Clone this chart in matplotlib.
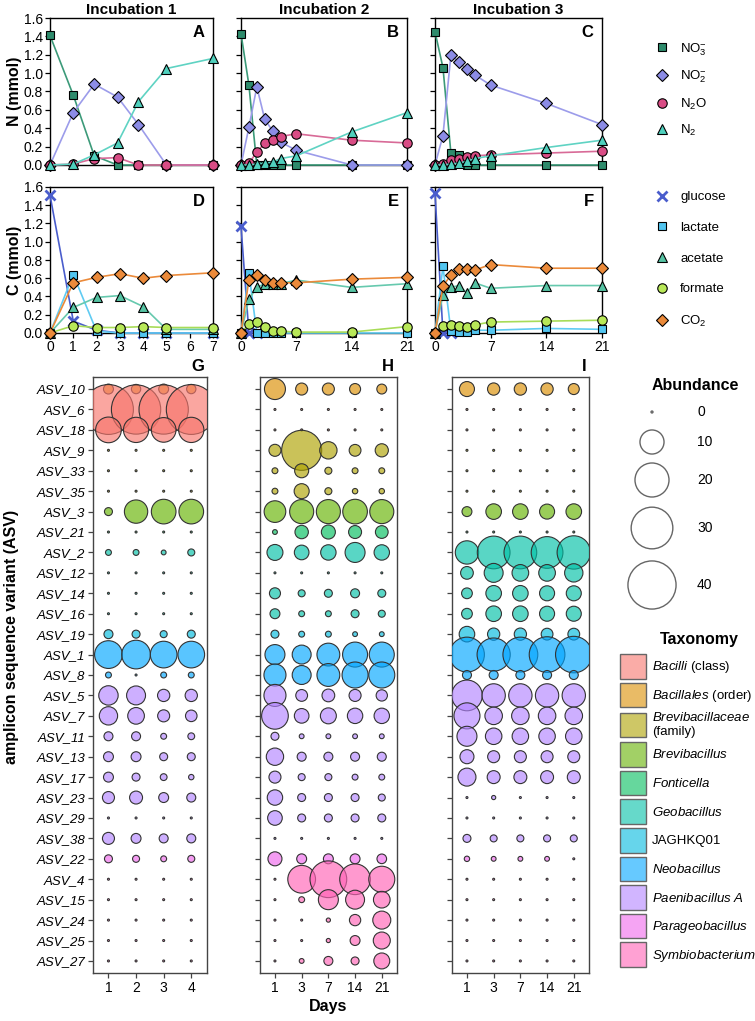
import numpy as np
import matplotlib.pyplot as plt
from matplotlib.patches import Patch
from matplotlib.lines import Line2D
from matplotlib.colors import to_rgba

plt.rcParams['font.family'] = ['Liberation Sans', 'DejaVu Sans']
plt.rcParams['mathtext.fontset'] = 'custom'
plt.rcParams['mathtext.rm'] = 'Liberation Sans'
plt.rcParams['mathtext.it'] = 'Liberation Sans:italic'
plt.rcParams['mathtext.bf'] = 'Liberation Sans:bold'

nan = np.nan

# ---- sampling days ----
days_1 = [0, 1, 1.9, 2.9, 3.8, 5, 7]
days_1c = [0, 1, 2, 3, 4, 5, 7]
days_23 = [0, 1, 2, 3, 4, 5, 7, 14, 21]

# ---- nitrogen species (mmol) ----
no3_1 = [1.41, 0.76, 0.10, 0.0, 0.0, 0.0, 0.0]
no2_1 = [0.0, 0.57, 0.88, 0.74, 0.44, 0.0, 0.0]
n2o_1 = [0.0, 0.01, 0.07, 0.08, 0.0, 0.0, 0.0]
n2_1 = [0.0, 0.01, 0.11, 0.24, 0.69, 1.05, 1.16]

no3_2 = [1.43, 0.87, 0.0, 0.0, 0.0, 0.0, 0.0, 0.0, 0.0]
no2_2 = [0.0, 0.41, 0.85, 0.50, 0.37, 0.25, 0.16, 0.0, 0.0]
n2o_2 = [0.0, 0.02, 0.14, 0.24, 0.27, 0.31, 0.34, 0.27, 0.24]
n2_2 = [0.0, 0.0, 0.01, 0.02, 0.03, 0.07, 0.10, 0.36, 0.57]

no3_3 = [1.45, 1.06, 0.13, 0.11, 0.0, 0.0, 0.0, 0.0, 0.0]
no2_3 = [0.0, 0.32, 1.20, 1.12, 1.04, 0.98, 0.87, 0.67, 0.44]
n2o_3 = [0.0, 0.01, 0.05, 0.07, 0.09, 0.10, 0.11, 0.13, 0.15]
n2_3 = [0.0, 0.0, 0.01, 0.02, 0.04, 0.07, 0.10, 0.19, 0.27]

# ---- carbon species (mmol) ----
glc_1 = [1.51, 0.13, 0.03, 0.0, 0.0, 0.0, 0.0]
lac_1 = [0.0, 0.64, 0.02, 0.0, 0.0, 0.0, 0.0]
ace_1 = [0.0, 0.28, 0.39, 0.41, 0.29, 0.04, 0.04]
for_1 = [0.0, 0.08, 0.06, 0.06, 0.07, 0.06, 0.06]
co2_1 = [0.0, 0.55, 0.61, 0.65, 0.60, 0.63, 0.66]

glc_2 = [1.17, 0.0, 0.0, nan, nan, nan, nan, nan, nan]
lac_2 = [0.0, 0.66, 0.0, 0.0, 0.0, 0.0, 0.0, 0.0, 0.0]
ace_2 = [0.0, 0.37, 0.50, 0.54, 0.54, 0.54, 0.58, 0.50, 0.54]
for_2 = [0.0, 0.10, 0.12, 0.07, 0.02, 0.02, 0.01, 0.01, 0.07]
co2_2 = [0.0, 0.58, 0.64, 0.58, 0.55, 0.55, 0.55, 0.59, 0.61]

glc_3 = [1.53, 0.0, 0.0, nan, nan, nan, nan, nan, nan]
lac_3 = [0.0, 0.73, 0.02, 0.01, 0.01, 0.03, 0.03, 0.05, 0.04]
ace_3 = [0.0, 0.42, 0.50, 0.52, 0.44, 0.55, 0.49, 0.52, 0.52]
for_3 = [0.0, 0.08, 0.09, 0.08, 0.07, 0.09, 0.12, 0.13, 0.14]
co2_3 = [0.0, 0.51, 0.64, 0.70, 0.70, 0.69, 0.75, 0.71, 0.71]

# ---- ASV abundance ----
asv_names = ['ASV_10', 'ASV_6', 'ASV_18', 'ASV_9', 'ASV_33', 'ASV_35', 'ASV_3',
             'ASV_21', 'ASV_2', 'ASV_12', 'ASV_14', 'ASV_16', 'ASV_19', 'ASV_1',
             'ASV_8', 'ASV_5', 'ASV_7', 'ASV_11', 'ASV_13', 'ASV_17', 'ASV_23',
             'ASV_29', 'ASV_38', 'ASV_22', 'ASV_4', 'ASV_15', 'ASV_24', 'ASV_25',
             'ASV_27']
asv_taxon = ['Bacillales', 'Bacilli', 'Bacilli', 'Brevibacillaceae', 'Brevibacillaceae',
             'Brevibacillaceae', 'Brevibacillus', 'Fonticella', 'Geobacillus', 'Geobacillus',
             'Geobacillus', 'Geobacillus', 'JAGHKQ01', 'Neobacillus', 'Neobacillus',
             'Paenibacillus A', 'Paenibacillus A', 'Paenibacillus A', 'Paenibacillus A',
             'Paenibacillus A', 'Paenibacillus A', 'Paenibacillus A', 'Paenibacillus A',
             'Parageobacillus', 'Symbiobacterium', 'Symbiobacterium', 'Symbiobacterium',
             'Symbiobacterium', 'Symbiobacterium']

days_g = ['1', '2', '3', '4']
days_hi = ['1', '3', '7', '14', '21']

abund_g = [
    [1.7, 1.5, 1.7, 1.5], [43, 42, 42, 43], [11.4, 11, 10.5, 11], [0, 0, 0, 0],
    [0, 0, 0, 0], [0, 0, 0, 0], [1.1, 9.4, 10.5, 10.5], [0, 0, 0, 0],
    [0.6, 0.6, 0.4, 0.85], [0, 0, 0, 0], [0, 0, 0, 0], [0, 0, 0, 0],
    [1.4, 1.1, 0.85, 1.1], [13.3, 14.2, 12.3, 12.3], [0.6, 0, 0.6, 0.6],
    [6.5, 6.2, 2.6, 2.6], [5.8, 4.8, 2.5, 2.3], [1.4, 1.4, 0.6, 0.8],
    [1.7, 1.7, 1.1, 1.1], [1.7, 1.1, 0.8, 0.5], [2.5, 2.9, 1.7, 1.4],
    [0, 0, 0, 0], [2.5, 1.7, 1.4, 1.4], [1.1, 0.85, 0.6, 0.85],
    [0, 0, 0, 0], [0, 0, 0, 0], [0, 0, 0, 0], [0, 0, 0, 0], [0, 0, 0, 0]]

abund_h = [
    [7.6, 2.5, 2.5, 2.1, 1.7], [0, 0, 0, 0, 0], [0, 0, 0, 0, 0],
    [2.5, 27.7, 5.2, 2.4, 3.0], [0.6, 3.4, 0.85, 0.6, 0.6], [0.6, 3.9, 0.85, 0.5, 0.5],
    [8.1, 10, 10, 10.5, 10], [0.4, 3.1, 3.4, 2.9, 2.8], [4.4, 3.7, 4.1, 6.9, 4.1],
    [0, 0, 0, 0, 0], [2.1, 0.85, 1.1, 1.4, 1.1], [1.7, 0.6, 0.6, 1.1, 0.85],
    [1.1, 0.6, 0.6, 0.4, 0.4], [6.9, 6.2, 9.0, 10.8, 10.8], [8.4, 6.2, 9.0, 11.7, 11.7],
    [8.4, 2.4, 2.8, 2.5, 2.2], [12.3, 3.7, 4.4, 4.1, 4.1], [1.1, 0.4, 0.4, 0.4, 0.4],
    [5.2, 1.4, 1.4, 1.4, 1.4], [2.5, 0.85, 0.85, 0.6, 0.6], [4.1, 1.1, 1.1, 1.1, 0.85],
    [3.7, 1.1, 1.1, 1.1, 1.1], [0, 0, 0, 0, 0], [3.4, 1.7, 1.7, 1.7, 1.6],
    [0, 13.3, 23.3, 16.3, 11.7], [0, 0.6, 6.9, 6.2, 4.8], [0, 0, 0.3, 2.2, 5.6],
    [0, 0, 0.3, 1.7, 5.0], [0, 0.4, 1.4, 1.1, 4.4]]

abund_i = [
    [3.9, 2.6, 2.6, 2.6, 2.1], [0, 0, 0, 0, 0], [0, 0, 0, 0, 0], [0, 0, 0, 0, 0],
    [0, 0, 0, 0, 0], [0, 0, 0, 0, 0], [1.7, 4.2, 4.2, 3.9, 4.2], [0, 0, 0, 0, 0],
    [9.4, 18.5, 18.5, 17.4, 19.2], [2.8, 6.2, 4.8, 4.8, 5.8], [2.0, 4.2, 4.2, 3.9, 3.9],
    [2.0, 4.2, 4.2, 3.9, 3.9], [4.2, 2.6, 2.6, 2.4, 2.4], [21, 19, 21, 22, 23],
    [1.4, 1.4, 1.4, 1.4, 1.4], [16.3, 9.4, 9.4, 9.4, 9.4], [11.7, 5.3, 5.3, 5.3, 5.3],
    [6.9, 4.7, 4.7, 4.7, 4.7], [3.4, 2.5, 2.5, 2.5, 2.5], [5.6, 2.9, 2.9, 2.9, 2.9],
    [0, 0.3, 0, 0, 0], [0, 0, 0, 0, 0], [1.1, 0.85, 0.85, 0.85, 0.85],
    [0.5, 0.4, 0.4, 0.4, 0], [0, 0, 0, 0, 0], [0, 0, 0, 0, 0], [0, 0, 0, 0, 0],
    [0, 0, 0, 0, 0], [0, 0, 0, 0, 0]]

taxa = ['Bacilli', 'Bacillales', 'Brevibacillaceae', 'Brevibacillus', 'Fonticella',
        'Geobacillus', 'JAGHKQ01', 'Neobacillus', 'Paenibacillus A', 'Parageobacillus',
        'Symbiobacterium']
taxa_labels = [r'$\it{Bacilli}$ (class)', r'$\it{Bacillales}$ (order)',
               '$\\it{Brevibacillaceae}$\n(family)', r'$\it{Brevibacillus}$',
               r'$\it{Fonticella}$', r'$\it{Geobacillus}$', 'JAGHKQ01',
               r'$\it{Neobacillus}$', r'$\it{Paenibacillus\ A}$',
               r'$\it{Parageobacillus}$', r'$\it{Symbiobacterium}$']
taxa_colors = ['#F8766D', '#DB8E00', '#AEA200', '#64B200', '#00BD5C', '#00C1A7',
               '#00BADE', '#00A6FF', '#B385FF', '#EF67EB', '#FF63B6']
abund_legend = [0, 10, 20, 30, 40]

# ---- styles ----
N_STYLE = [('NO$_3^{-}$', 's', '#2E8B6C', '#3C9A79', 6.0),
           ('NO$_2^{-}$', 'D', '#8C8CE6', '#9C9CEA', 5.8),
           ('N$_2$O', 'o', '#D94C85', '#D86A97', 6.8),
           ('N$_2$', '^', '#4FD0BD', '#5FD3C3', 7.0)]
C_STYLE = [('glucose', 'x', '#4A5DCC', '#4A5DCC', 7.0),
           ('lactate', 's', '#52C5F0', '#60CBF2', 6.0),
           ('acetate', '^', '#55C3A3', '#66C9AE', 7.0),
           ('formate', 'o', '#B8E858', '#A8DC58', 6.8),
           ('CO$_2$', 'D', '#EB8A3A', '#EB8A3A', 5.8)]

W, H = 755, 1021
SCALE = 30.0  # points^2 per abundance unit
fig = plt.figure(figsize=(W / 100, H / 100), dpi=100)


def box(x0, y0, x1, y1):
    return [x0 / W, 1 - y1 / H, (x1 - x0) / W, (y1 - y0) / H]


def line_panel(ax, days, series, styles, xmax, xticks, letter, show_y):
    for vals, (lab, mk, fc, lc, ms) in zip(series, styles):
        if mk == 'x':
            ax.plot(days, vals, color=lc, lw=1.2, marker='x', ms=ms, mew=2.0,
                    clip_on=False, zorder=3)
        else:
            ax.plot(days, vals, color=lc, lw=1.2, marker=mk, ms=ms, mfc=fc,
                    mec='black', mew=0.8, clip_on=False, zorder=3)
    ax.set_xlim(0, xmax)
    ax.set_ylim(0, 1.6)
    ax.set_yticks(np.arange(0, 1.61, 0.2))
    if show_y:
        ax.set_yticklabels([f'{v:.1f}' for v in np.arange(0, 1.61, 0.2)])
    else:
        ax.set_yticklabels([])
    if xticks is None:
        ax.set_xticks([])
    else:
        ax.set_xticks(xticks)
        ax.set_xticklabels([str(t) for t in xticks])
    ax.tick_params(direction='out', length=3.5, width=0.9, labelsize=10, pad=1.5)
    for s in ax.spines.values():
        s.set_linewidth(1.0)
    ax.text(0.95, 0.95, letter, transform=ax.transAxes, ha='right', va='top',
            fontsize=12, fontweight='bold')


def bubble_panel(ax, abund, xlabels, letter, show_names):
    a = np.array(abund, dtype=float)
    rows, cols = np.indices(a.shape)
    sizes = np.where(a > 0, a * SCALE, 2.0)
    faces = [to_rgba(taxa_colors[taxa.index(asv_taxon[r])], 0.65) for r in rows.ravel()]
    ax.scatter(cols.ravel(), rows.ravel(), s=sizes.ravel(), c=faces,
               edgecolors='#333333', linewidths=0.8, zorder=3)
    ax.set_xlim(-0.56, a.shape[1] - 1 + 0.57)
    ax.set_ylim(len(asv_names) - 1 + 0.59, -0.59)
    ax.set_yticks(range(len(asv_names)))
    if show_names:
        ax.set_yticklabels(asv_names, fontstyle='italic', fontsize=9.5)
    else:
        ax.set_yticklabels([])
    ax.set_xticks(range(a.shape[1]))
    ax.set_xticklabels(xlabels, fontsize=10)
    ax.tick_params(direction='out', length=3.5, width=0.9, color='#444444', pad=2)
    for s in ax.spines.values():
        s.set_linewidth(1.0)
        s.set_color('#444444')
    ax.text(0.98, 1.005, letter, transform=ax.transAxes, ha='right', va='bottom',
            fontsize=12, fontweight='bold')


axA = fig.add_axes(box(50, 18, 213, 165))
axB = fig.add_axes(box(241, 18, 407, 165))
axC = fig.add_axes(box(435, 18, 602, 165))
axD = fig.add_axes(box(50, 187, 213, 333))
axE = fig.add_axes(box(241, 187, 407, 333))
axF = fig.add_axes(box(435, 187, 602, 333))

line_panel(axA, days_1, [no3_1, no2_1, n2o_1, n2_1], N_STYLE, 7, None, 'A', True)
line_panel(axB, days_23, [no3_2, no2_2, n2o_2, n2_2], N_STYLE, 21, None, 'B', False)
line_panel(axC, days_23, [no3_3, no2_3, n2o_3, n2_3], N_STYLE, 21, None, 'C', False)
line_panel(axD, days_1c, [glc_1, lac_1, ace_1, for_1, co2_1], C_STYLE, 7,
           [0, 1, 2, 3, 4, 5, 6, 7], 'D', True)
line_panel(axE, days_23, [glc_2, lac_2, ace_2, for_2, co2_2], C_STYLE, 21,
           [0, 7, 14, 21], 'E', False)
line_panel(axF, days_23, [glc_3, lac_3, ace_3, for_3, co2_3], C_STYLE, 21,
           [0, 7, 14, 21], 'F', False)

for ax, t in zip([axA, axB, axC], ['Incubation 1', 'Incubation 2', 'Incubation 3']):
    ax.set_title(t, fontsize=11, fontweight='bold', pad=3)

fig.text(14 / W, 1 - 91 / H, 'N (mmol)', rotation=90, ha='center', va='center',
         fontsize=11.5, fontweight='bold')
fig.text(14 / W, 1 - 260 / H, 'C (mmol)', rotation=90, ha='center', va='center',
         fontsize=11.5, fontweight='bold')

axG = fig.add_axes(box(93, 377, 207, 973))
axH = fig.add_axes(box(260, 377, 397, 973))
axI = fig.add_axes(box(452, 377, 589, 973))
bubble_panel(axG, abund_g, days_g, 'G', True)
bubble_panel(axH, abund_h, days_hi, 'H', False)
bubble_panel(axI, abund_i, days_hi, 'I', False)

fig.text(12 / W, 1 - 637 / H, 'amplicon sequence variant (ASV)', rotation=90,
         ha='center', va='center', fontsize=11.5, fontweight='bold')
fig.text(328 / W, 1 - 1006 / H, 'Days', ha='center', va='center',
         fontsize=11.5, fontweight='bold')

# ---- N and C legends ----
def marker_handle(lab, mk, fc, lc, ms):
    if mk == 'x':
        return Line2D([], [], ls='none', marker='x', ms=ms, mew=2.0, color=lc, label=lab)
    return Line2D([], [], ls='none', marker=mk, ms=ms, mfc=fc, mec='black', mew=0.8,
                  label=lab)


fig.legend(handles=[marker_handle(*s) for s in N_STYLE], loc='upper left',
           bbox_to_anchor=(655 / W, 1 - 41 / H), frameon=False, fontsize=9.5,
           handlelength=1.0, handletextpad=0.9, labelspacing=0.85,
           borderpad=0, borderaxespad=0)
fig.legend(handles=[marker_handle(*s) for s in C_STYLE], loc='upper left',
           bbox_to_anchor=(655 / W, 1 - 191 / H), frameon=False, fontsize=9.5,
           handlelength=1.0, handletextpad=0.9, labelspacing=1.4,
           borderpad=0, borderaxespad=0)

# ---- taxonomy legend ----
fig.text(699 / W, 1 - 639 / H, 'Taxonomy', ha='center', va='center',
         fontsize=11.5, fontweight='bold')
tax_handles = [Patch(facecolor=to_rgba(c, 0.6), edgecolor='#666666', linewidth=1.0,
                     label=l) for c, l in zip(taxa_colors, taxa_labels)]
fig.legend(handles=tax_handles, loc='upper left', bbox_to_anchor=(620 / W, 1 - 654 / H),
           frameon=False, fontsize=9.5, handlelength=1.95, handleheight=2.5,
           handletextpad=0.45, labelspacing=0.3, borderpad=0, borderaxespad=0)

# ---- abundance size legend ----
fig.text(695 / W, 1 - 386 / H, 'Abundance', ha='center', va='center',
         fontsize=11.5, fontweight='bold')
leg_ax = fig.add_axes([0, 0, 1, 1])
leg_ax.set_xlim(0, W)
leg_ax.set_ylim(H, 0)
leg_ax.axis('off')
leg_y = [412, 442, 480, 528, 585]
leg_s = [v * SCALE if v > 0 else 2.0 for v in abund_legend]
leg_ax.scatter([652] * len(leg_y), leg_y, s=leg_s, facecolors='none',
               edgecolors='#666666', linewidths=1.0)
for y, v in zip(leg_y, abund_legend):
    leg_ax.text(697, y, str(v), ha='left', va='center', fontsize=10)

fig.savefig('out.png', dpi=100)
